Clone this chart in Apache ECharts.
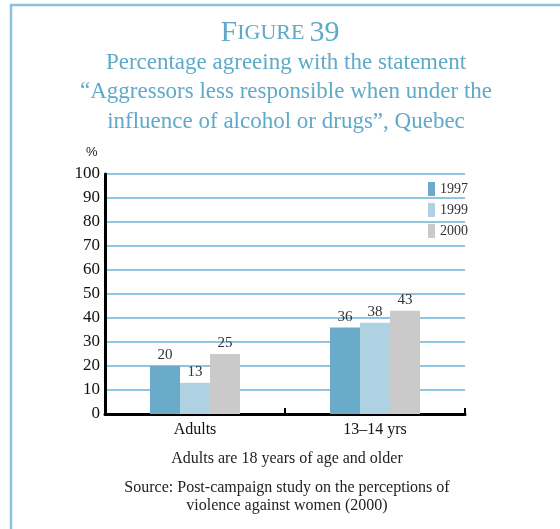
<!DOCTYPE html>
<html><head><meta charset="utf-8">
<script src="https://cdn.jsdelivr.net/npm/echarts@6/dist/echarts.min.js"></script>
<style>html,body{margin:0;padding:0;background:#fff}#c{width:560px;height:529px}</style>
</head><body><div id="c"></div>
<script>
const categories = ['Adults', '13–14 yrs'];
const seriesNames = ['1997', '1999', '2000'];
const v1997 = [20, 36];
const v1999 = [13, 38];
const v2000 = [25, 43];
const colors = ['#6aabca', '#aed2e2', '#cacaca'];
const serif = '"Liberation Serif", "DejaVu Serif", serif';
const titleColor = '#5fa9c9';

const chart = echarts.init(document.getElementById('c'));
const vals = [v1997, v1999, v2000];
chart.setOption({
  animation: false,
  backgroundColor: '#fff',
  title: [
    { text: '{a|F}{b|IGURE} {a|39}', left: 'center', top: 13,
      textStyle: { rich: {
        a: { fontFamily: serif, fontSize: 30, fontWeight: 'normal', color: titleColor },
        b: { fontFamily: serif, fontSize: 22, fontWeight: 'normal', color: titleColor } } } }
  ],
  legend: {
    orient: 'vertical', left: 423, top: 177, itemWidth: 7, itemHeight: 14, itemGap: 7,
    icon: 'rect', data: seriesNames,
    textStyle: { fontFamily: serif, fontSize: 14, color: '#333', padding: [2, 0, 0, 0] }
  },
  grid: { left: 105, right: 95, top: 174, bottom: 115, containLabel: false },
  xAxis: {
    type: 'category', data: categories,
    axisLine: { lineStyle: { color: '#000', width: 3 } },
    axisTick: { show: true, inside: true, length: 6, lineStyle: { color: '#000', width: 2 } },
    axisLabel: { fontFamily: serif, fontSize: 16, color: '#111', margin: 8 }
  },
  yAxis: {
    type: 'value', min: 0, max: 100, interval: 10,
    axisLine: { show: true, lineStyle: { color: '#000', width: 3 } },
    axisTick: { show: false },
    axisLabel: { fontFamily: serif, fontSize: 17, color: '#111', margin: 5 },
    splitLine: { lineStyle: { color: '#6ab2d6', width: 1.5 } }
  },
  series: seriesNames.map((n, i) => ({
    name: n, type: 'bar', data: vals[i], barWidth: 30, barGap: '0%',
    itemStyle: { color: colors[i] },
    label: { show: true, position: 'top', distance: 3, fontFamily: serif, fontSize: 15, color: '#333' }
  })),
  graphic: [
    { type: 'polyline', shape: { points: [[11, 529], [11, 5], [560, 5]] }, style: { stroke: '#8cc4dc', lineWidth: 2.5, fill: null } },
    { type: 'text', x: 286, y: 48, style: { text: 'Percentage agreeing with the statement\n“Aggressors less responsible when under the\ninfluence of alcohol or drugs”, Quebec',
      font: '23px ' + serif, fill: titleColor, textAlign: 'center', lineHeight: 29.5 } },
    { type: 'text', left: 86, top: 146, style: { text: '%', font: '13px "Liberation Sans Narrow", "Liberation Sans", sans-serif', fill: '#222' } },
    { type: 'text', x: 287, y: 451, style: { text: 'Adults are 18 years of age and older', font: '16px ' + serif, fill: '#222', textAlign: 'center' } },
    { type: 'text', x: 287, y: 479, style: { text: 'Source: Post-campaign study on the perceptions of\nviolence against women (2000)', font: '16px ' + serif, fill: '#222', textAlign: 'center', lineHeight: 18 } }
  ]
});
</script></body></html>
